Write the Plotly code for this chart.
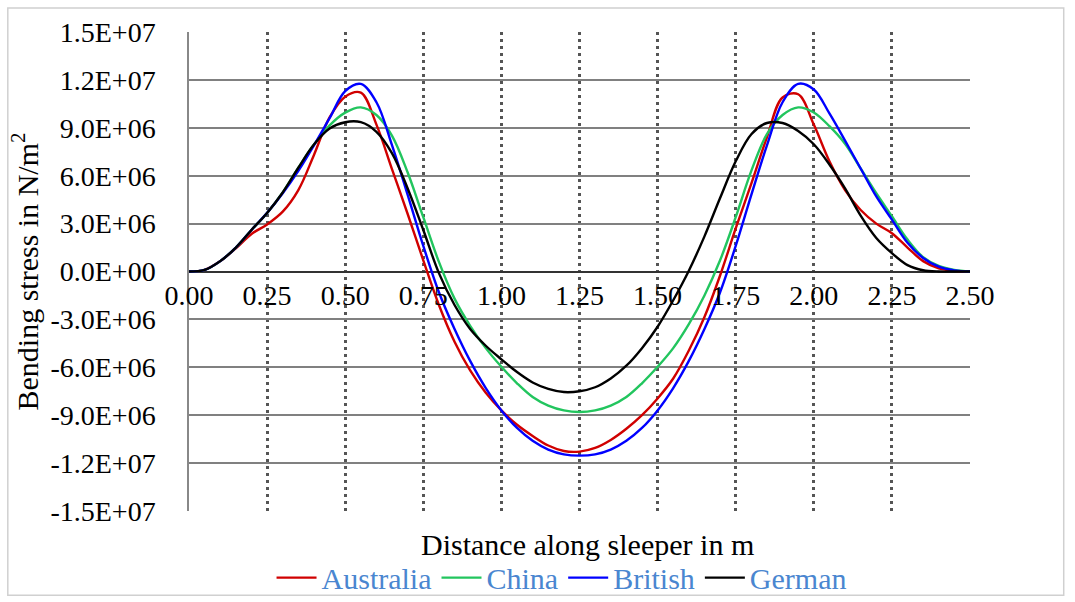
import plotly.graph_objects as go

# ---------------- data (distance in m, bending stress in N/m^2) ----------------
x_pos = [0.00, 0.05, 0.10, 0.15, 0.20, 0.25, 0.30, 0.35, 0.40, 0.45, 0.50, 0.55, 0.60, 0.65, 0.70,
         0.75, 0.80, 0.85, 0.90, 0.95, 1.00, 1.05, 1.10, 1.15, 1.20, 1.25, 1.30, 1.35, 1.40, 1.45,
         1.50, 1.55, 1.60, 1.65, 1.70, 1.75, 1.80, 1.85, 1.90, 1.95, 2.00, 2.05, 2.10, 2.15, 2.20,
         2.25, 2.30, 2.35, 2.40, 2.45, 2.50]

# values in units of 1e6 N/m^2
australia = [0, 0.1, 0.65, 1.45, 2.35, 2.95, 3.75, 5.1, 7.3, 9.65, 10.95, 11.2, 9.2, 6.4, 3.6,
             0.7, -2.1, -4.4, -6.2, -7.6, -8.7, -9.6, -10.3, -10.9, -11.24, -11.28, -11.05, -10.55, -9.85, -9.0,
             -7.95, -6.7, -4.95, -2.85, -0.25, 2.7, 5.5, 8.4, 10.9, 11.1, 9.2, 6.9, 5.1, 3.85, 3.0,
             2.4, 1.5, 0.65, 0.2, 0.04, 0]

china = [0, 0.1, 0.65, 1.5, 2.6, 3.67, 4.95, 6.5, 7.95, 9.15, 9.95, 10.28, 9.8, 8.5, 6.2,
         3.4, 0.6, -1.7, -3.4, -4.8, -5.97, -7.0, -7.86, -8.4, -8.7, -8.8, -8.7, -8.4, -7.86, -7.0,
         -5.97, -4.8, -3.3, -1.5, 0.7, 3.4, 6.3, 8.6, 9.8, 10.28, 9.96, 9.1, 8.0, 6.45, 4.9,
         3.46, 2.0, 0.9, 0.35, 0.1, 0]

british = [0, 0.1, 0.65, 1.5, 2.6, 3.67, 4.9, 6.3, 7.9, 9.6, 11.3, 11.75, 10.6, 7.9, 4.8,
           1.6, -1.3, -3.6, -5.6, -7.3, -8.7, -9.8, -10.6, -11.15, -11.45, -11.53, -11.45, -11.15, -10.6, -9.8,
           -8.7, -7.3, -5.6, -3.6, -1.3, 1.6, 4.8, 7.9, 10.6, 11.75, 11.4, 9.9, 8.2, 6.45, 4.7,
           3.25, 1.8, 0.85, 0.3, 0.07, 0]

german = [0, 0.1, 0.65, 1.5, 2.6, 3.67, 4.95, 6.5, 7.95, 8.95, 9.35, 9.35, 8.75, 7.4, 5.2,
          2.6, -0.1, -2.1, -3.6, -4.65, -5.5, -6.3, -6.95, -7.35, -7.55, -7.5, -7.25, -6.7, -5.9, -4.8,
          -3.46, -1.8, 0.05, 2.2, 4.6, 6.9, 8.6, 9.3, 9.3, 8.8, 7.97, 6.7, 5.2, 3.5, 2.1,
          1.15, 0.4, 0.08, 0, 0, 0]

series_names = ["Australia", "China", "British", "German"]
series_colors = ["#d00000", "#22c55e", "#0000ff", "#000000"]

x_ticks = [0, 0.25, 0.5, 0.75, 1.0, 1.25, 1.5, 1.75, 2.0, 2.25, 2.5]
x_ticktext = ["0.00", "0.25", "0.50", "0.75", "1.00", "1.25", "1.50", "1.75", "2.00", "2.25", "2.50"]
y_ticks = [1.5e7, 1.2e7, 9e6, 6e6, 3e6, 0, -3e6, -6e6, -9e6, -1.2e7, -1.5e7]
y_ticktext = ["1.5E+07", "1.2E+07", "9.0E+06", "6.0E+06", "3.0E+06", "0.0E+00",
              "-3.0E+06", "-6.0E+06", "-9.0E+06", "-1.2E+07", "-1.5E+07"]

FONT = "Liberation Serif, Times New Roman, serif"
FS = 28      # tick labels
FT = 30      # titles and legend

fig = go.Figure()
for vals, name, col in zip([australia, china, british, german], series_names, series_colors):
    fig.add_trace(go.Scatter(x=x_pos, y=[v * 1e6 for v in vals], mode="lines", name=name,
                             line=dict(color=col, width=2.4, shape="spline", smoothing=1.0)))

fig.update_layout(
    width=1075, height=602,
    margin=dict(l=188.5, r=104.5, t=32, b=90.5, autoexpand=False),
    paper_bgcolor="white", plot_bgcolor="white",
    font=dict(family=FONT, size=FS, color="#000000"),
    showlegend=True,
    legend=dict(orientation="h", x=0.477, xanchor="center", y=-0.139, yanchor="middle",
                font=dict(family=FONT, size=FT, color="#4a86d0"),
                itemwidth=40, tracegroupgap=0, bgcolor="rgba(0,0,0,0)"),
    xaxis=dict(range=[0, 2.5], tickvals=x_ticks, ticktext=x_ticktext,
               anchor="free", position=0.5, showline=False,
               showgrid=True, gridcolor="#555555", gridwidth=2.5, griddash="3px,4px",
               zeroline=False, ticks="", ticklabelstandoff=4,
               tickfont=dict(family=FONT, size=FS)),
    yaxis=dict(range=[-1.5e7, 1.5e7], tickvals=y_ticks, ticktext=y_ticktext,
               showline=True, linecolor="#888888", linewidth=1.5,
               showgrid=True, gridcolor="#808080", gridwidth=1.5,
               zeroline=True, zerolinecolor="#333333", zerolinewidth=1.8,
               ticks="", ticklabelstandoff=26, tickfont=dict(family=FONT, size=FS),
               title=dict(text="Bending stress in N/m<sup>2</sup>", standoff=3,
                          font=dict(family=FONT, size=FT))),
    annotations=[dict(text="Distance along sleeper in m", xref="paper", yref="paper",
                      x=0.51, y=-0.07, xanchor="center", yanchor="middle", showarrow=False,
                      font=dict(family=FONT, size=FT, color="#000000"))],
    shapes=[dict(type="rect", xref="paper", yref="paper", x0=-0.232, x1=1.12, y0=-0.176, y1=1.05,
                 line=dict(color="#d0d0d0", width=1.5), fillcolor="rgba(0,0,0,0)", layer="below")],
)

fig.write_html("out.html")
